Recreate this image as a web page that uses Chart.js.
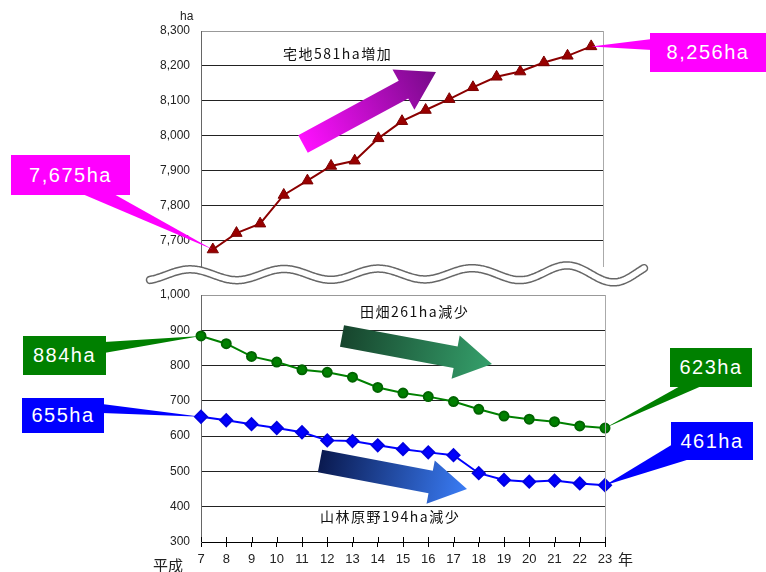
<!DOCTYPE html>
<html>
<head>
<meta charset="utf-8">
<script src="https://cdn.jsdelivr.net/npm/chart.js@4"></script>
<style>
  html, body { margin: 0; padding: 0; background: #fff; }
  #wrap { position: relative; width: 766px; height: 572px; overflow: hidden; }
  #wrap canvas { position: absolute; left: 0; top: 0; }
  .callout { position: absolute; color: #fff; font: 20px "Liberation Sans", Arial, sans-serif;
             letter-spacing: 1.5px; display: flex; align-items: center; justify-content: center; z-index: 3; }
  .cap { position: absolute; font: 14px "Noto Sans CJK JP", sans-serif; line-height: 14px;
         letter-spacing: 1.5px; color: #111; white-space: nowrap; z-index: 3; }
  .unit { position: absolute; font: 12px "Liberation Sans", Arial, sans-serif; color: #222; z-index: 3; }
  .ax { position: absolute; font: 15px "Noto Sans CJK JP", sans-serif; line-height: 15px; color: #222; z-index: 3; }
</style>
</head>
<body>
<div id="wrap">
  <canvas id="upper" width="766" height="572"></canvas>
  <canvas id="lower" width="766" height="572"></canvas>
</div>
<script>
// 平成7年〜23年
const years = ['7','8','9','10','11','12','13','14','15','16','17','18','19','20','21','22','23'];
// 宅地 (ha)
const takuchi = [7675, 7722, 7749, 7831, 7872, 7914, 7929, 7993, 8042, 8074, 8105, 8139, 8169, 8184, 8210, 8229, 8256];
// 田畑 (ha)
const tahata = [884, 862, 826, 810, 788, 781, 767, 738, 722, 712, 698, 676, 657, 648, 641, 629, 623];
// 山林原野 (ha)
const sanrin = [655, 645, 634, 623, 611, 588, 586, 574, 563, 554, 546, 495, 476, 471, 474, 466, 461];
// axis ticks
const upperTicks = [7700, 7800, 7900, 8000, 8100, 8200, 8300];
const lowerTicks = [300, 400, 500, 600, 700, 800, 900, 1000];

const fmt = v => String(v).replace(/\B(?=(\d{3})+(?!\d))/g, ',');
const last = a => a[a.length - 1];

const tickFont = { family: '"Liberation Sans", Arial, sans-serif', size: 12 };

function rightBorder(chart) {
  const a = chart.chartArea, c = chart.ctx;
  c.save();
  c.strokeStyle = '#aaa';
  c.lineWidth = 1;
  c.beginPath();
  c.moveTo(Math.round(a.right) + 0.5, a.top);
  c.lineTo(Math.round(a.right) + 0.5, a.bottom);
  c.stroke();
  c.restore();
}

function wedge(c, color, b1, b2, tip) {
  c.save();
  c.fillStyle = color;
  c.beginPath();
  c.moveTo(b1[0], b1[1]);
  c.lineTo(tip[0], tip[1]);
  c.lineTo(b2[0], b2[1]);
  c.closePath();
  c.fill();
  c.restore();
}

function arrow(c, tail, tip, shaftW, headW, headL, c0, c1) {
  const dx = tip[0] - tail[0], dy = tip[1] - tail[1];
  const L = Math.hypot(dx, dy), ux = dx / L, uy = dy / L, px = -uy, py = ux;
  const bx = tip[0] - ux * headL, by = tip[1] - uy * headL;
  const s = shaftW / 2, h = headW / 2;
  const pts = [
    [tail[0] + px * s, tail[1] + py * s],
    [bx + px * s, by + py * s],
    [bx + px * h, by + py * h],
    tip,
    [bx - px * h, by - py * h],
    [bx - px * s, by - py * s],
    [tail[0] - px * s, tail[1] - py * s]
  ];
  const g = c.createLinearGradient(tail[0], tail[1], tip[0], tip[1]);
  g.addColorStop(0, c0);
  g.addColorStop(1, c1);
  c.save();
  c.fillStyle = g;
  c.beginPath();
  pts.forEach((p, i) => i ? c.lineTo(p[0], p[1]) : c.moveTo(p[0], p[1]));
  c.closePath();
  c.fill();
  c.restore();
}

function pointAt(chart, i, v) {
  return [chart.scales.x.getPixelForValue(i), chart.scales.y.getPixelForValue(v)];
}

// axis break: double wavy line
function waveBreak(c) {
  const path = () => {
    c.beginPath();
    for (let x = 150; x <= 644; x += 1) {
      const amp = 5.5 + Math.max(0, x - 480) / 90 * 2.5;
      const y = 275 - amp * Math.cos(2 * Math.PI * (x - 190) / 94) - (x - 150) * 0.004;
      x === 150 ? c.moveTo(x, y) : c.lineTo(x, y);
    }
  };
  c.save();
  c.lineCap = 'round';
  path(); c.strokeStyle = '#666'; c.lineWidth = 8.5; c.stroke();
  path(); c.strokeStyle = '#fff'; c.lineWidth = 5.5; c.stroke();
  c.restore();
}

const upperDeco = {
  id: 'upperDeco',
  afterDatasetsDraw(chart) {
    const c = chart.ctx;
    rightBorder(chart);
    arrow(c, [303, 144], [436, 72], 20, 46, 37, '#ff10ff', '#760a88');
    wedge(c, '#ff00ff', [80, 193], [112, 193], pointAt(chart, 0, takuchi[0]));
    wedge(c, '#ff00ff', [652, 39], [652, 50], pointAt(chart, takuchi.length - 1, last(takuchi)));
  }
};

const lowerDeco = {
  id: 'lowerDeco',
  afterDatasetsDraw(chart) {
    const c = chart.ctx, xs = chart.scales.x, a = chart.chartArea;
    rightBorder(chart);
    // tick marks crossing the x axis
    c.save();
    c.strokeStyle = '#000';
    c.lineWidth = 1;
    c.beginPath();
    xs.ticks.forEach((t, i) => {
      const x = Math.round(xs.getPixelForTick(i)) + 0.5;
      c.moveTo(x, a.bottom - 5);
      c.lineTo(x, a.bottom);
    });
    c.stroke();
    c.restore();
    arrow(c, [342, 336], [492, 364], 22, 44, 37, '#17452d', '#35a06b');
    arrow(c, [320, 461], [467, 489], 23, 44, 37, '#0a1a50', '#3a7cf5');
    const n = tahata.length - 1;
    wedge(c, '#008000', [104, 342], [104, 353], pointAt(chart, 0, tahata[0]));
    wedge(c, '#0000ff', [102, 404], [102, 413], pointAt(chart, 0, sanrin[0]));
    wedge(c, '#008000', [682, 385], [704, 385], pointAt(chart, n, last(tahata)));
    wedge(c, '#0000ff', [673, 444], [690, 459], pointAt(chart, n, last(sanrin)));
    waveBreak(c);
  }
};

const common = {
  responsive: false,
  animation: false,
  events: [],
  plugins: { legend: { display: false }, tooltip: { enabled: false } }
};

new Chart(document.getElementById('upper'), {
  type: 'line',
  data: {
    labels: years,
    datasets: [{
      data: takuchi,
      borderColor: '#8b0000',
      borderWidth: 2,
      backgroundColor: '#990000',
      pointBackgroundColor: '#990000',
      pointBorderColor: '#7a0000',
      pointBorderWidth: 1,
      pointStyle: 'triangle',
      pointRadius: 6.5,
      tension: 0
    }]
  },
  options: Object.assign({}, common, {
    layout: { padding: { left: 0, right: 163, top: 31, bottom: 305 } },
    scales: {
      x: { type: 'category', offset: true, display: false },
      y: {
        min: 7625, max: 8300,
        afterBuildTicks: s => { s.ticks = upperTicks.map(v => ({ value: v })); },
        afterFit: s => { s.width = 201; },
        ticks: { padding: 11, color: '#222', font: tickFont, callback: v => fmt(v) },
        grid: { drawTicks: false, lineWidth: 1, color: ctx => (ctx.tick && ctx.tick.value === 8300) ? '#999' : '#222' },
        border: { display: true, color: '#666' }
      }
    }
  }),
  plugins: [upperDeco]
});

new Chart(document.getElementById('lower'), {
  type: 'line',
  data: {
    labels: years,
    datasets: [{
      data: tahata,
      borderColor: '#008000',
      borderWidth: 2,
      backgroundColor: '#008000',
      pointBackgroundColor: '#008000',
      pointBorderColor: '#006400',
      pointStyle: 'circle',
      pointRadius: 4.5,
      tension: 0
    }, {
      data: sanrin,
      borderColor: '#0000ff',
      borderWidth: 2,
      backgroundColor: '#0000ff',
      pointBackgroundColor: '#0000ff',
      pointBorderColor: '#0000e0',
      pointStyle: 'rectRot',
      pointRadius: 6,
      tension: 0
    }]
  },
  options: Object.assign({}, common, {
    layout: { padding: { left: 0, right: 161, top: 295, bottom: 0 } },
    scales: {
      x: {
        type: 'category', offset: false,
        afterFit: s => { s.height = 30; },
        grid: { display: true, drawOnChartArea: false, drawTicks: true, tickLength: 5, color: '#000' },
        border: { display: true, color: '#000' },
        ticks: { padding: 5, color: '#222', font: { family: '"Liberation Sans", Arial, sans-serif', size: 13 }, autoSkip: false, maxRotation: 0 }
      },
      y: {
        min: 300, max: 1000,
        afterBuildTicks: s => { s.ticks = lowerTicks.map(v => ({ value: v })); },
        afterFit: s => { s.width = 201; },
        ticks: { padding: 11, color: '#222', font: tickFont, callback: v => fmt(v) },
        grid: { drawTicks: false, lineWidth: 1, color: ctx => (ctx.tick && ctx.tick.value === 1000) ? '#999' : '#222' },
        border: { display: true, color: '#666' }
      }
    }
  }),
  plugins: [lowerDeco]
});

// text overlays
const wrap = document.getElementById('wrap');
function addBox(text, x, y, w, h, bg) {
  const d = document.createElement('div');
  d.className = 'callout';
  d.textContent = text;
  Object.assign(d.style, { left: x + 'px', top: y + 'px', width: w + 'px', height: h + 'px', background: bg });
  wrap.appendChild(d);
}
function addText(cls, text, x, y) {
  const d = document.createElement('div');
  d.className = cls;
  d.textContent = text;
  Object.assign(d.style, { left: x + 'px', top: y + 'px' });
  wrap.appendChild(d);
}

addBox(fmt(takuchi[0]) + 'ha', 11, 155, 119, 40, '#ff00ff');
addBox(fmt(last(takuchi)) + 'ha', 650, 33, 116, 39, '#ff00ff');
addBox(tahata[0] + 'ha', 23, 336, 83, 39, '#008000');
addBox(sanrin[0] + 'ha', 22, 398, 82, 35, '#0000ff');
addBox(last(tahata) + 'ha', 670, 348, 82, 39, '#008000');
addBox(last(sanrin) + 'ha', 671, 422, 82, 38, '#0000ff');

addText('cap', '宅地' + (last(takuchi) - takuchi[0]) + 'ha増加', 283, 46);
addText('cap', '田畑' + (tahata[0] - last(tahata)) + 'ha減少', 360, 304);
addText('cap', '山林原野' + (sanrin[0] - last(sanrin)) + 'ha減少', 320, 509);
addText('unit', 'ha', 180, 9);
addText('ax', '平成', 153, 557);
addText('ax', '年', 618, 551);
</script>
</body>
</html>
